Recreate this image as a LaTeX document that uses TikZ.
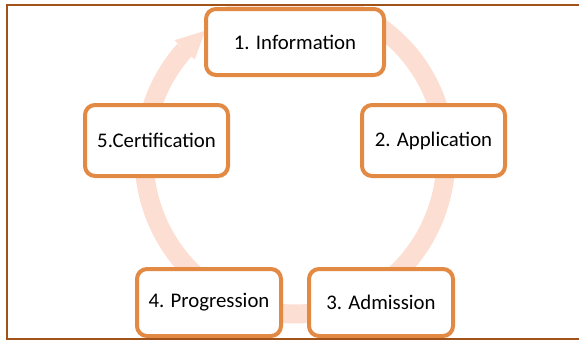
\documentclass[tikz,border=0pt]{standalone}
\usepackage{fontspec}
\setmainfont{Carlito}
\definecolor{frameclr}{RGB}{160,82,24}
\definecolor{boxclr}{RGB}{226,137,67}
\definecolor{ringclr}{RGB}{252,222,210}
\begin{document}
\begin{tikzpicture}[x=1pt,y=-1pt,
  stagebox/.style={draw=boxclr, line width=4pt, fill=white, rounded corners=10pt,
    inner sep=0pt, font=\fontsize{20.8}{25}\selectfont, text=black},
  ringline/.style={draw=ringclr, line width=19pt}]
\useasboundingbox (0,0) rectangle (579,341);
% cycle ring with its arrowhead, kept inside the frame
\begin{scope}
  \clip (7,6) rectangle (579,338.5);
  \draw[ringline] plot[domain=137:478, samples=150, smooth]
    ({295+151*cos(\x)},{157-157*sin(\x)});
  \fill[ringclr] (174.5,40.2) -- (205.2,30.8) -- (194.7,59.6) -- cycle;
\end{scope}
% stages
\node[stagebox, minimum width=178pt, minimum height=66pt] (info) at (295,42) {1. Information};
\node[stagebox, minimum width=143pt, minimum height=71pt] (appl) at (433.5,140.5) {2. Application};
\node[stagebox, minimum width=144pt, minimum height=67pt] (adm) at (381,302.5) {3. Admission};
\node[stagebox, minimum width=144pt, minimum height=67pt] (prog) at (209,302.5) {4. Progression};
\node[stagebox, minimum width=143pt, minimum height=71pt] (cert) at (156.5,140.5) {5.Certification};
% frame
\draw[frameclr, line width=2pt] (582,5) -- (6.5,5) -- (6.5,339.3) -- (582,339.3);
\end{tikzpicture}
\end{document}
